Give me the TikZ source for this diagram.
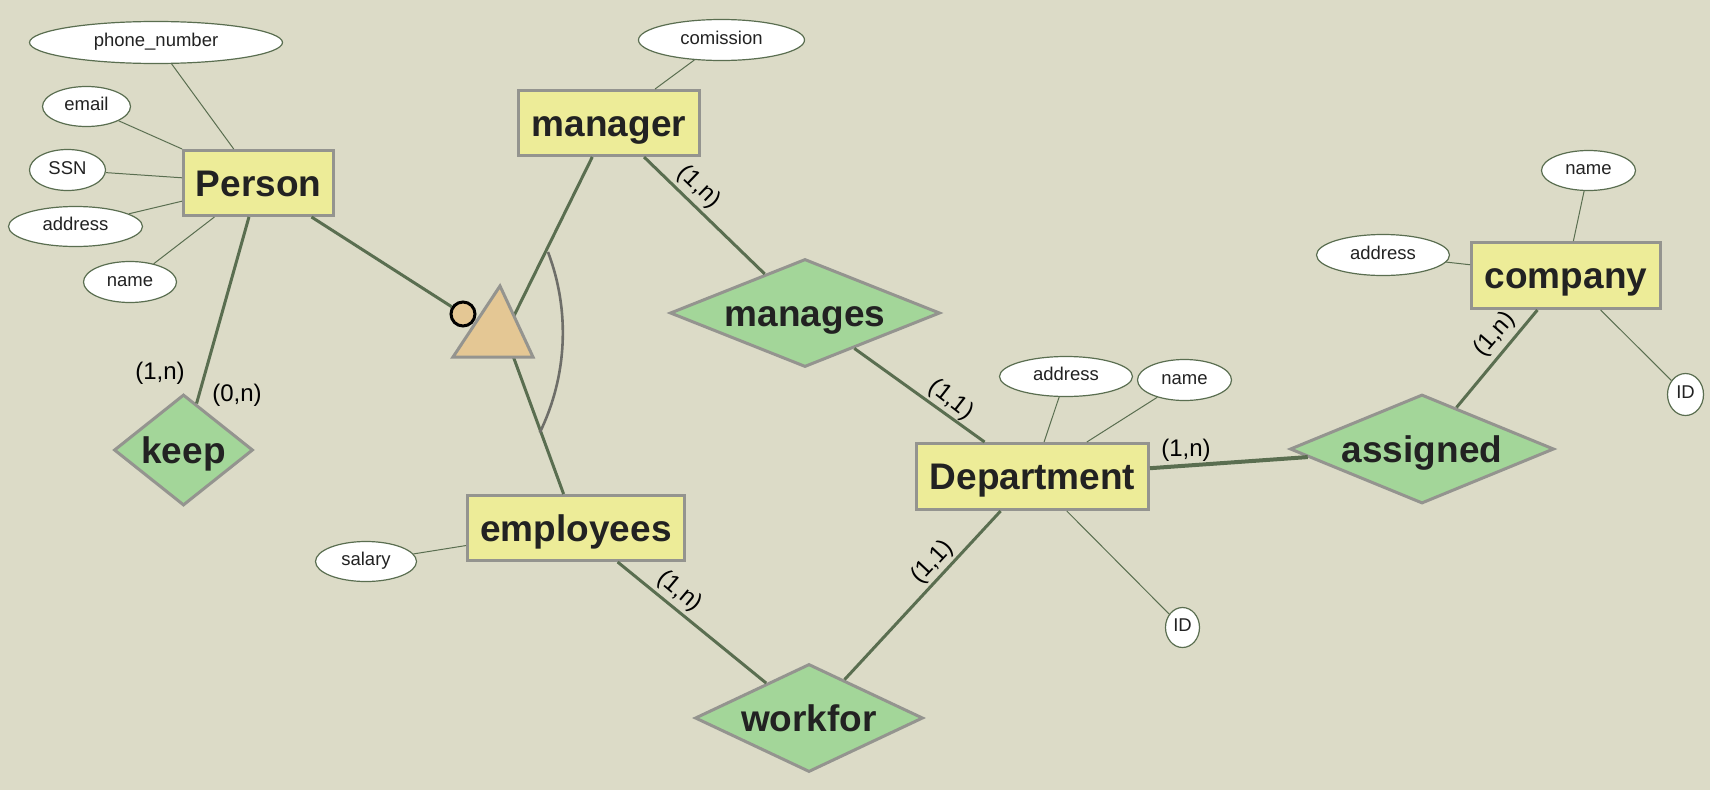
\documentclass[tikz,border=0pt]{standalone}
\usepackage{fontspec}
\setmainfont{Liberation Sans}
\usetikzlibrary{shapes.geometric}
\definecolor{bg}{RGB}{220,219,199}
\definecolor{entfill}{RGB}{237,236,152}
\definecolor{relfill}{RGB}{163,214,153}
\definecolor{bordergray}{RGB}{148,148,143}
\definecolor{linegreen}{RGB}{90,110,80}
\definecolor{isafill}{RGB}{228,199,148}
\definecolor{arcgray}{RGB}{110,110,105}
\definecolor{txt}{RGB}{34,34,34}
\begin{document}
\begin{tikzpicture}[x=1pt,y=-1pt,
  entity/.style={draw=bordergray, line width=3pt, fill=entfill, rectangle, inner sep=0pt,
    text=txt, font=\fontsize{37}{40}\selectfont\bfseries, text height=26.5pt, text depth=0pt},
  rel/.style={draw=bordergray, line width=3pt, fill=relfill, diamond, inner sep=0pt,
    text=txt, font=\fontsize{37}{40}\selectfont\bfseries, text height=26.5pt, text depth=0pt},
  attr/.style={draw=linegreen, line width=1.2pt, fill=white, ellipse, inner sep=0pt,
    text=txt, font=\fontsize{18.5}{20}\selectfont, text height=13.3pt, text depth=5pt},
  conn/.style={draw=linegreen, line width=3pt},
  attrline/.style={draw=linegreen, line width=1pt},
  card/.style={font=\fontsize{24}{26}\selectfont, text=black, inner sep=0pt},
]
\fill[bg] (0,0) rectangle (1710,790);
\useasboundingbox (0,0) rectangle (1710,790);

% entities
\node[entity, minimum width=150, minimum height=65] (person) at (258.5,183) {Person};
\node[entity, minimum width=181, minimum height=65] (manager) at (609,123) {manager};
\node[entity, minimum width=217, minimum height=65] (employees) at (576,528) {employees};
\node[entity, minimum width=232, minimum height=66] (dept) at (1032.5,476.5) {Department};
\node[entity, minimum width=189, minimum height=66] (company) at (1566,275.5) {company};

% relationships
\node[rel, aspect=1.27, minimum width=139, minimum height=111] (keep) at (183.5,450) {keep};
\node[rel, aspect=2.49, minimum width=270, minimum height=108] (manages) at (805,313) {manages};
\node[rel, aspect=2.1, minimum width=228, minimum height=108] (workfor) at (809,718) {workfor};
\node[rel, aspect=2.41, minimum width=264, minimum height=109] (assigned) at (1422,449) {assigned};

% attributes
\node[attr, minimum width=253, minimum height=42] (phone) at (156,42.5) {phone\_number};
\node[attr, minimum width=88, minimum height=40] (email) at (86.5,106.5) {email};
\node[attr, minimum width=76, minimum height=41] (ssn) at (67.5,170) {SSN};
\node[attr, minimum width=134, minimum height=40] (paddr) at (75.5,226.5) {address};
\node[attr, minimum width=93, minimum height=41] (pname) at (130,282) {name};
\node[attr, minimum width=166, minimum height=41] (comm) at (721.5,40) {comission};
\node[attr, minimum width=101, minimum height=40] (salary) at (366,561.5) {salary};
\node[attr, minimum width=133, minimum height=40] (daddr) at (1066,376.5) {address};
\node[attr, minimum width=94, minimum height=41] (dname) at (1184.5,380) {name};
\node[attr, minimum width=34, minimum height=40] (did) at (1182.5,627.5) {ID};
\node[attr, minimum width=94, minimum height=40] (cname) at (1588.5,170.5) {name};
\node[attr, minimum width=133, minimum height=41] (caddr) at (1383,255) {address};
\node[attr, minimum width=36, minimum height=42] (cid) at (1685.5,394.5) {ID};

% attribute lines
\draw[attrline] (phone) -- (person);
\draw[attrline] (email) -- (person);
\draw[attrline] (ssn) -- (person);
\draw[attrline] (paddr) -- (person);
\draw[attrline] (pname) -- (person);
\draw[attrline] (comm) -- (manager);
\draw[attrline] (salary) -- (employees);
\draw[attrline] (daddr) -- (dept);
\draw[attrline] (dname) -- (dept);
\draw[attrline] (did) -- (dept);
\draw[attrline] (cname) -- (company);
\draw[attrline] (caddr) -- (company);
\draw[attrline] (cid) -- (company);

% ISA
\coordinate (isa) at (505,334);
\node[circle, draw=black, line width=3pt, fill=isafill, minimum size=24, inner sep=0pt] (circ) at (463,314) {};
\draw[conn] (manager) -- (isa);
\draw[conn] (employees) -- (isa);
\draw[conn] (person) -- (circ);
\filldraw[draw=bordergray, fill=isafill, line width=3pt, line join=miter]
  (500,286) -- (453,357) -- (533,357) -- cycle;
\coordinate (arcstart) at (548,252);
\draw[arcgray, line width=2.6pt] (arcstart) arc[start angle=20.8, end angle=-26, radius=227.5pt];

% relationship lines
\draw[conn] (person) -- (keep);
\draw[conn] (manager) -- (manages);
\draw[conn] (manages) -- (dept);
\draw[conn] (employees) -- (workfor);
\draw[conn] (workfor) -- (dept);
\draw[conn, line width=4pt] (dept) -- (assigned);
\draw[conn] (company) -- (assigned);

% cardinalities
\node[card] (c1) at (160,373) {(1,n)};
\node[card] (c2) at (237,395) {(0,n)};
\node[card, rotate=-44] (c3) at (699,187) {(1,n)};
\node[card, rotate=-38] (c4) at (951,400) {(1,1)};
\node[card, rotate=-40] (c5) at (679.5,591.5) {(1,n)};
\node[card, rotate=47] (c6) at (932.5,562.5) {(1,1)};
\node[card] (c7) at (1186,450) {(1,n)};
\node[card, rotate=49] (c8) at (1495,334.5) {(1,n)};
\end{tikzpicture}
\end{document}
